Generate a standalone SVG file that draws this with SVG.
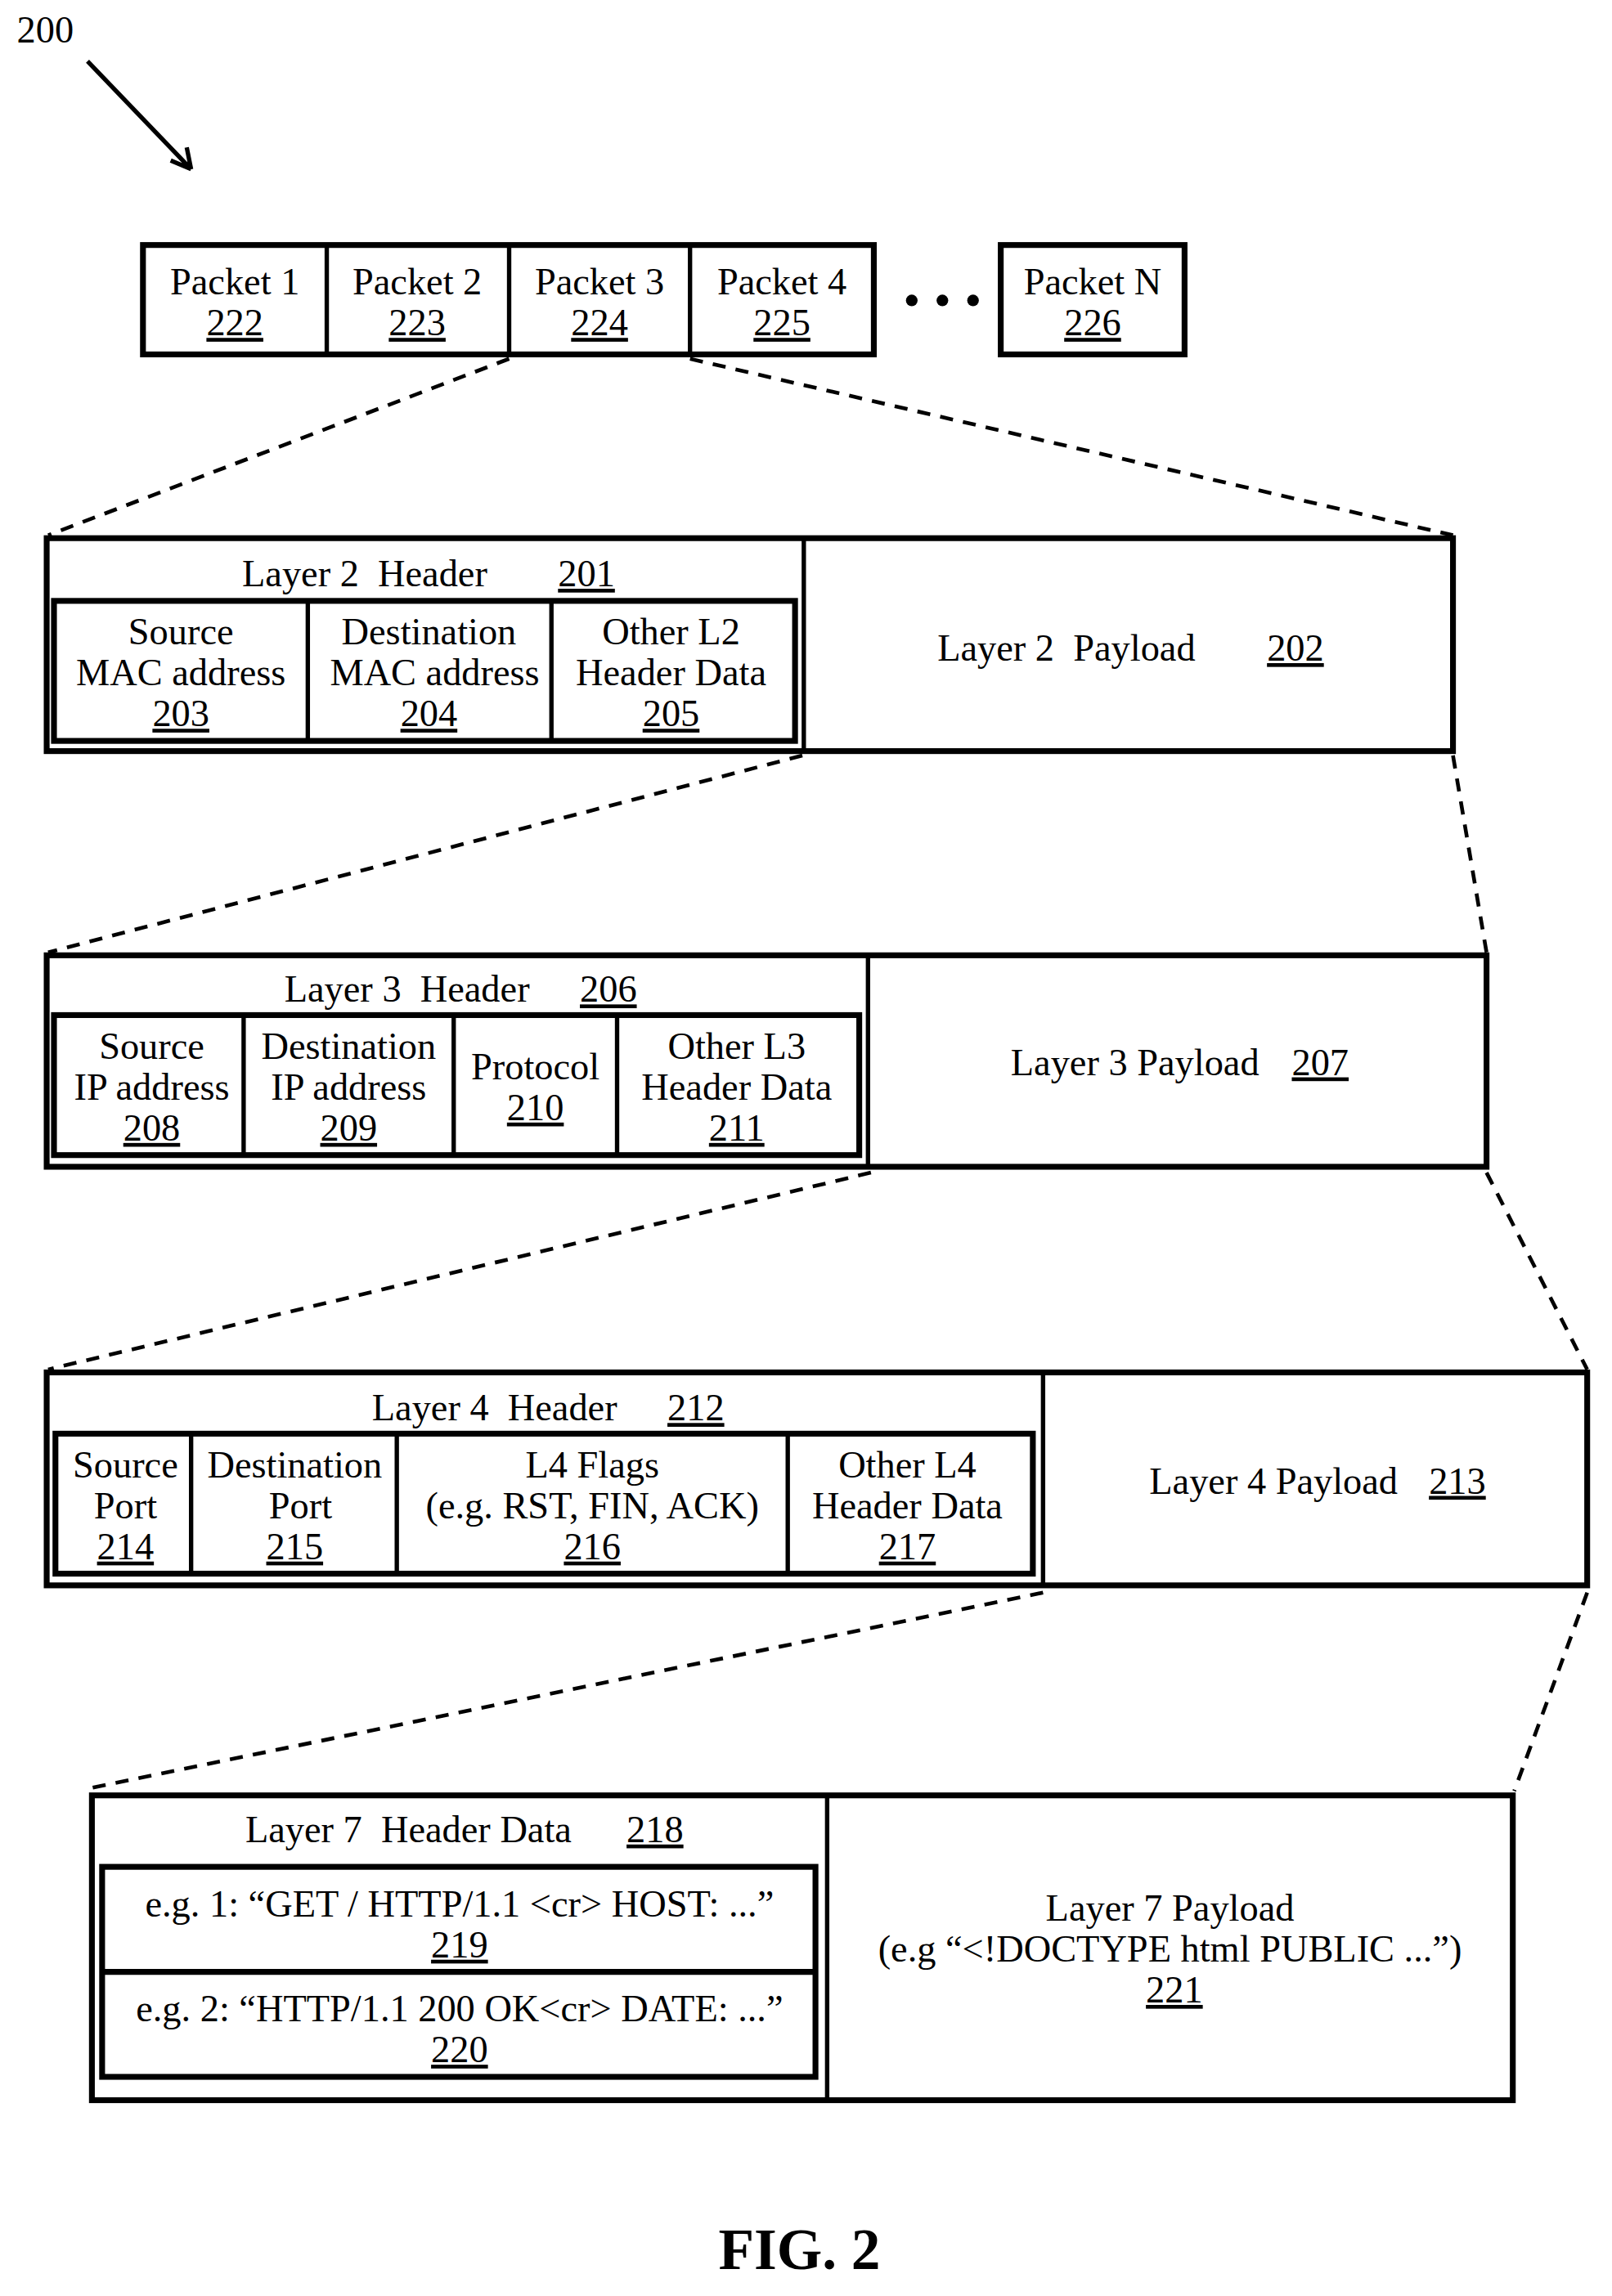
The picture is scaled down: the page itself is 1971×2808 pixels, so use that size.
<svg xmlns="http://www.w3.org/2000/svg" width="1971" height="2808" viewBox="0 0 1971 2808">
<style>
text{font-family:"Liberation Serif","Times New Roman",serif;font-size:26px;fill:#000;text-anchor:middle}
.u{text-decoration:underline}
.box{fill:none;stroke:#000;stroke-width:4}
.thin{fill:none;stroke:#000;stroke-width:3}
.dash{fill:none;stroke:#000;stroke-width:2.6;stroke-dasharray:9,7}
</style>
<rect width="1971" height="2808" fill="#fff"/>
<g transform="scale(1.7837)">
<g id="label200"><text x="31" y="29" xml:space="preserve">200</text>
<path d="M60,42 L131,116 M131,116 L128,101 M131,116 L117,110" class="thin" stroke-width="2.5"/></g>

<g id="packets">
<rect x="98" y="168" width="501" height="75" class="box"/>
<line x1="224" y1="168" x2="224" y2="243" class="thin"/>
<line x1="349" y1="168" x2="349" y2="243" class="thin"/>
<line x1="473" y1="168" x2="473" y2="243" class="thin"/>
<rect x="686" y="168" width="126" height="75" class="box"/>
<circle cx="625" cy="206" r="4"/><circle cx="646" cy="206" r="4"/><circle cx="667" cy="206" r="4"/>
<text x="161" y="202">Packet 1</text><text x="161" y="230" class="u">222</text>
<text x="286" y="202">Packet 2</text><text x="286" y="230" class="u">223</text>
<text x="411" y="202">Packet 3</text><text x="411" y="230" class="u">224</text>
<text x="536" y="202">Packet 4</text><text x="536" y="230" class="u">225</text>
<text x="749" y="202">Packet N</text><text x="749" y="230" class="u">226</text>
</g>

<g id="connectors">
<path d="M349,246 L33,367 M473,246 L996,367" class="dash"/>
<path d="M550,518 L33,653 M996,518 L1019,653" class="dash"/>
<path d="M597,804 L33,939 M1019,804 L1088,939" class="dash"/>
<path d="M715,1092 L62,1226 M1088,1092 L1038,1228" class="dash"/>
</g>

<g id="layer2">
<rect x="32" y="369" width="964" height="146" class="box"/>
<line x1="551" y1="369" x2="551" y2="515" class="thin"/>
<rect x="37" y="412" width="508" height="96" class="box"/>
<line x1="211" y1="412" x2="211" y2="508" class="thin"/>
<line x1="378" y1="412" x2="378" y2="508" class="thin"/>
<text x="250" y="402" xml:space="preserve">Layer 2  Header</text><text x="402" y="402" class="u">201</text>
<text x="124" y="442">Source</text><text x="124" y="470">MAC address</text><text x="124" y="498" class="u">203</text>
<text x="294" y="442">Destination</text><text x="298" y="470">MAC address</text><text x="294" y="498" class="u">204</text>
<text x="460" y="442">Other L2</text><text x="460" y="470">Header Data</text><text x="460" y="498" class="u">205</text>
<text x="731" y="453" xml:space="preserve">Layer 2  Payload</text><text x="888" y="453" class="u">202</text>
</g>

<g id="layer3">
<rect x="32" y="655" width="987" height="145" class="box"/>
<line x1="595" y1="655" x2="595" y2="800" class="thin"/>
<rect x="37" y="696" width="552" height="96" class="box"/>
<line x1="167" y1="696" x2="167" y2="792" class="thin"/>
<line x1="311" y1="696" x2="311" y2="792" class="thin"/>
<line x1="423" y1="696" x2="423" y2="792" class="thin"/>
<text x="279" y="687" xml:space="preserve">Layer 3  Header</text><text x="417" y="687" class="u">206</text>
<text x="104" y="726">Source</text><text x="104" y="754">IP address</text><text x="104" y="782" class="u">208</text>
<text x="239" y="726">Destination</text><text x="239" y="754">IP address</text><text x="239" y="782" class="u">209</text>
<text x="367" y="740">Protocol</text><text x="367" y="768" class="u">210</text>
<text x="505" y="726">Other L3</text><text x="505" y="754">Header Data</text><text x="505" y="782" class="u">211</text>
<text x="778" y="737" xml:space="preserve">Layer 3 Payload</text><text x="905" y="737" class="u">207</text>
</g>

<g id="layer4">
<rect x="32" y="941" width="1056" height="146" class="box"/>
<line x1="715" y1="941" x2="715" y2="1087" class="thin"/>
<rect x="38" y="983" width="670" height="96" class="box"/>
<line x1="131" y1="983" x2="131" y2="1079" class="thin"/>
<line x1="272" y1="983" x2="272" y2="1079" class="thin"/>
<line x1="540" y1="983" x2="540" y2="1079" class="thin"/>
<text x="339" y="974" xml:space="preserve">Layer 4  Header</text><text x="477" y="974" class="u">212</text>
<text x="86" y="1013">Source</text><text x="86" y="1041">Port</text><text x="86" y="1069" class="u">214</text>
<text x="202" y="1013">Destination</text><text x="206" y="1041">Port</text><text x="202" y="1069" class="u">215</text>
<text x="406" y="1013">L4 Flags</text><text x="406" y="1041">(e.g. RST, FIN, ACK)</text><text x="406" y="1069" class="u">216</text>
<text x="622" y="1013">Other L4</text><text x="622" y="1041">Header Data</text><text x="622" y="1069" class="u">217</text>
<text x="873" y="1024" xml:space="preserve">Layer 4 Payload</text><text x="999" y="1024" class="u">213</text>
</g>

<g id="layer7">
<rect x="63" y="1231" width="974" height="209" class="box"/>
<line x1="567" y1="1231" x2="567" y2="1440" class="thin"/>
<rect x="70" y="1280" width="489" height="144" class="box"/>
<line x1="70" y1="1352" x2="559" y2="1352" class="box"/>
<text x="280" y="1263" xml:space="preserve">Layer 7  Header Data</text><text x="449" y="1263" class="u">218</text>
<text x="315" y="1314">e.g. 1: “GET / HTTP/1.1 &lt;cr&gt; HOST: ...”</text><text x="315" y="1342" class="u">219</text>
<text x="315" y="1386">e.g. 2: “HTTP/1.1 200 OK&lt;cr&gt; DATE: ...”</text><text x="315" y="1414" class="u">220</text>
<text x="802" y="1317">Layer 7 Payload</text>
<text x="802" y="1345">(e.g “&lt;!DOCTYPE html PUBLIC ...”)</text>
<text x="805" y="1373" class="u">221</text>
</g>

<text x="548" y="1556" style="font-size:40px;font-weight:bold">FIG. 2</text>
</g>
</svg>
